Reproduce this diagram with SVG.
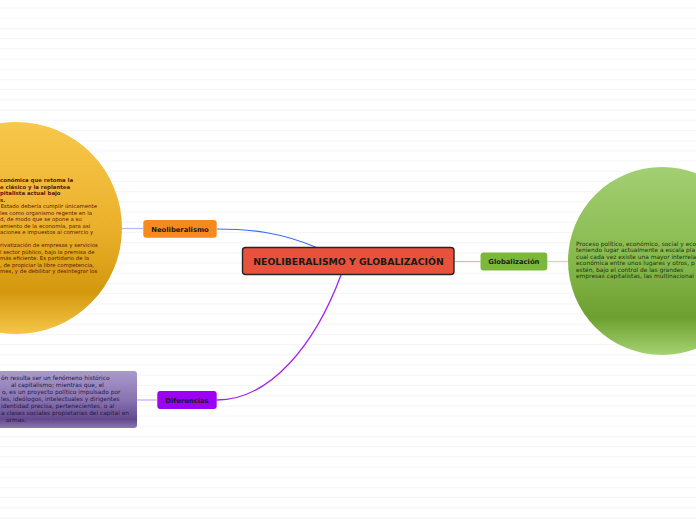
<svg xmlns="http://www.w3.org/2000/svg" width="696" height="520" viewBox="0 0 696 520">
<defs>
<pattern id="stripes" x="0" y="7.5" width="696" height="10.2" patternUnits="userSpaceOnUse">
<rect x="0" y="0" width="696" height="1.1" fill="#f5f5f5"/>
</pattern>
<linearGradient id="gOrange" x1="0" y1="0" x2="0" y2="1">
<stop offset="0" stop-color="#f7c84c"/>
<stop offset="0.5" stop-color="#ebb02b"/>
<stop offset="0.8" stop-color="#d4980e"/>
<stop offset="1" stop-color="#f5c648"/>
</linearGradient>
<linearGradient id="gGreen" x1="0" y1="0" x2="0" y2="1">
<stop offset="0" stop-color="#a3cf73"/>
<stop offset="0.5" stop-color="#86b94b"/>
<stop offset="0.8" stop-color="#6c9f2f"/>
<stop offset="1" stop-color="#a6d272"/>
</linearGradient>
<linearGradient id="gPurple" x1="0" y1="0" x2="0" y2="1">
<stop offset="0" stop-color="#a99acc"/>
<stop offset="0.5" stop-color="#8a74b2"/>
<stop offset="0.85" stop-color="#634a8e"/>
<stop offset="1" stop-color="#8a78b0"/>
</linearGradient>
</defs>
<style>
.node text{font-family:"DejaVu Sans",Verdana,sans-serif;font-weight:bold;text-anchor:middle;fill:#1a1a1a}
.t{font-family:"DejaVu Sans",Verdana,sans-serif;font-size:5.4px}
.t2{font-family:"DejaVu Sans",Verdana,sans-serif;font-size:5.9px}
.b{font-weight:bold}
.conn path{fill:none}
</style>
<rect width="696" height="520" fill="#ffffff"/>
<rect width="696" height="520" fill="url(#stripes)"/>

<g id="connectors" class="conn">
<path d="M216.7 229 C250 229 280 232 318 248" stroke="#3b6cf5" stroke-width="1.2"/>
<path d="M122 228.5 L143.3 228.5" stroke="#aabcf2" stroke-width="1.2"/>
<path d="M341 275 C315 345 270 400 216.7 400" stroke="#a024f2" stroke-width="1.3"/>
<path d="M137 400 L157.3 400" stroke="#cfa6f3" stroke-width="1.2"/>
<path d="M454.3 261.5 L480.5 261.5" stroke="#f5b860" stroke-width="1.1"/>
<path d="M547.3 261.5 L568 261.5" stroke="#f2cc90" stroke-width="1.1"/>
</g>

<g id="neo-detail">
<circle cx="16" cy="228" r="106" fill="url(#gOrange)"/>
<g class="t" fill="#5c1a04">
<text class="b" x="0" y="182">conómica que retoma la</text>
<text class="b" x="0" y="188.5">e clásico y la replantea</text>
<text class="b" x="0" y="195">pitalista actual bajo</text>
<text class="b" x="0" y="201.5">s.</text>
<text x="0.7" y="208">Estado debería cumplir únicamente</text>
<text x="0" y="214.5">les como organismo regente en la</text>
<text x="0" y="221">d, de modo que se opone a su</text>
<text x="0" y="227.5">amiento de la economía, para así</text>
<text x="0" y="234">aciones e impuestos al comercio y</text>
<text x="0" y="247">rivatización de empresas y servicios</text>
<text x="0" y="253.5">l sector público, bajo la premisa de</text>
<text x="0" y="260">más eficiente. Es partidario de la</text>
<text x="0" y="266.5">, de propiciar la libre competencia,</text>
<text x="0" y="273">mes, y de debilitar y desintegrar los</text>
</g>
</g>

<g id="glob-detail">
<circle cx="662" cy="261" r="94" fill="url(#gGreen)"/>
<g class="t2" fill="#26330f">
<text x="576" y="245.5">Proceso político, económico, social y eco</text>
<text x="576" y="252">teniendo lugar actualmente a escala pla</text>
<text x="576" y="258.5">cual cada vez existe una mayor interrela</text>
<text x="576" y="265">económica entre unos lugares y otros, p</text>
<text x="576" y="271.5">estén, bajo el control de las grandes</text>
<text x="576" y="278">empresas capitalistas, las multinacional</text>
</g>
</g>

<g id="dif-detail">
<rect x="-6" y="371" width="143" height="57" rx="3" fill="url(#gPurple)"/>
<g class="t2" fill="#261a3a">
<text x="1" y="380">ón resulta ser un fenómeno histórico</text>
<text x="11" y="387">al capitalismo; mientras que, el</text>
<text x="2" y="394">o, es un proyecto político impulsado por</text>
<text x="1" y="401">les, ideólogos, intelectuales y dirigentes</text>
<text x="1" y="408">identidad precisa, pertenecientes, o al</text>
<text x="1" y="415">a clases sociales propietarias del capital en</text>
<text x="6" y="422">ormas.</text>
</g>
</g>

<g id="central" class="node">
<rect x="242.5" y="247.5" width="211.5" height="27" rx="3" fill="#e8513c" stroke="#262626" stroke-width="1.4"/>
<text x="348.5" y="265" font-size="9.3">NEOLIBERALISMO Y GLOBALIZACIÓN</text>
</g>

<g id="neoliberalismo" class="node">
<rect x="143.3" y="220" width="73.4" height="17.8" rx="3" fill="#f58b1f"/>
<text x="180" y="231.5" font-size="6.8">Neoliberalismo</text>
</g>

<g id="diferencias" class="node">
<rect x="157.3" y="391" width="59.4" height="18" rx="3" fill="#9c00f5"/>
<text x="187" y="402.5" font-size="6.8">Diferencias</text>
</g>

<g id="globalizacion" class="node">
<rect x="480.5" y="252.5" width="66.8" height="18" rx="3" fill="#7bb83a"/>
<text x="513.9" y="264" font-size="6.8">Globalización</text>
</g>
</svg>
